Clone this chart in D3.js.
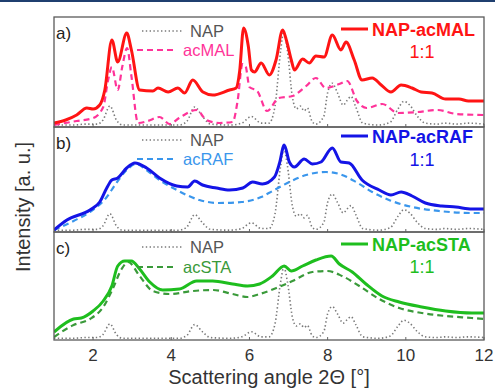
<!DOCTYPE html>
<html><head><meta charset="utf-8">
<script src="https://cdn.jsdelivr.net/npm/d3@7"></script>
<style>body{margin:0;background:#fff}svg{display:block}text{font-family:"Liberation Sans",Arial,sans-serif}</style>
</head><body>
<svg id="c" width="495" height="388"></svg>
<script>
// ---- data ----
const xTicks = [2, 4, 6, 8, 10, 12];
const panelLabels = ["a)", "b)", "c)"];
const mixNames = ["NAP-acMAL", "NAP-acRAF", "NAP-acSTA"];
const acidNames = ["acMAL", "acRAF", "acSTA"];
const ratioLabel = "1:1";
const napName = "NAP";
// NAP reference pattern (normalised, peak = 100)
const napPattern = [[1.0,1],[1.5,1],[1.8,2],[2.1,2],[2.25,6],[2.43,21],[2.6,6],[2.75,1],[3.5,1],[4.2,1],[4.4,5],[4.6,20],[4.8,10],[5.0,2],[5.5,1],[5.8,3],[6.05,10],[6.3,3],[6.5,3],[6.65,20],[6.8,80],[6.88,100],[6.97,80],[7.1,30],[7.2,18],[7.3,21],[7.4,16],[7.48,19],[7.6,5],[7.7,2],[7.9,10],[8.0,35],[8.12,45],[8.25,35],[8.4,22],[8.5,27],[8.6,31],[8.72,20],[8.9,3],[9.3,1],[9.6,4],[9.8,18],[9.95,26],[10.1,22],[10.3,10],[10.5,3],[10.8,2],[11.0,3],[11.3,2],[11.6,3],[12.0,2]];
const napPeak = [95, 82, 72];
const mixMAL = [[1.0,3],[1.3,6],[1.58,11],[1.84,18],[2.0,17],[2.17,21],[2.3,36],[2.48,86],[2.63,64],[2.86,93],[2.98,76],[3.19,36],[3.53,35],[3.66,38],[3.92,34],[4.17,38],[4.34,33],[4.55,46],[4.81,34],[5.06,31],[5.49,36],[5.66,38],[5.75,55],[5.85,98],[5.97,80],[6.05,56],[6.13,54],[6.3,63],[6.51,51],[6.68,66],[6.85,96],[6.95,85],[7.07,66],[7.15,56],[7.36,67],[7.53,63],[7.7,70],[7.91,69],[8.12,91],[8.34,76],[8.47,84],[8.68,66],[8.88,46],[9.14,48],[9.37,41],[9.62,34],[9.88,41],[10.16,38],[10.39,34],[10.67,33],[11.02,27],[11.36,27],[11.6,25],[12.0,25]];
const acMAL = [[1.0,1],[1.58,5],[2.0,8],[2.26,19],[2.38,45],[2.48,59],[2.63,36],[2.75,60],[2.87,78],[2.98,50],[3.15,3],[3.4,5],[3.7,9],[3.96,2],[4.2,8],[4.65,16],[4.9,6],[5.23,3],[5.57,4],[5.7,26],[5.82,62],[5.9,60],[6.0,39],[6.2,35],[6.45,15],[6.75,28],[7.1,30],[7.45,40],[7.7,48],[7.95,38],[8.3,42],[8.5,45],[8.75,25],[9.0,18],[9.4,22],[9.8,13],[10.3,14],[10.8,16],[11.3,12],[12.0,11]];
const mixRAF = [[1.0,1],[1.33,11],[1.92,21],[2.17,29],[2.35,43],[2.48,51],[2.63,53],[2.86,63],[3.07,68],[3.37,63],[3.7,53],[4.14,45],[4.42,44],[4.6,50],[4.8,46],[5.16,43],[5.49,41],[5.83,43],[6.08,49],[6.33,47],[6.64,54],[6.77,68],[6.89,86],[7.02,69],[7.15,64],[7.4,72],[7.61,67],[7.83,69],[8.12,83],[8.34,69],[8.55,68],[8.88,51],[9.32,41],[9.62,36],[9.88,39],[10.16,35],[10.5,28],[10.92,25],[11.28,24],[11.69,22],[12.0,22]];
const acRAF = [[1.0,1],[1.5,10],[1.92,19],[2.35,34],[2.56,46],[2.86,61],[3.1,67],[3.4,60],[3.7,51],[4.14,41],[4.72,31],[5.2,28],[5.8,29],[6.3,34],[6.59,40],[7.02,49],[7.45,56],[7.96,59],[8.3,57],[8.73,49],[9.14,39],[9.57,31],[10.16,24],[10.85,20],[11.69,18],[12.0,18]];
const mixSTA = [[1.0,7],[1.5,20],[1.7,21],[2.0,28],[2.26,38],[2.48,53],[2.63,73],[2.81,78],[2.98,78],[3.19,70],[3.45,57],[3.78,49],[4.21,50],[4.65,58],[5.06,58],[5.57,55],[5.95,53],[6.26,55],[6.59,63],[6.89,73],[7.07,68],[7.36,73],[7.7,79],[8.09,83],[8.3,75],[8.63,67],[8.98,55],[9.39,43],[9.83,37],[10.41,32],[11.02,28],[11.69,26],[12.0,26]];
const acSTA = [[1.0,2],[1.5,14],[1.92,20],[2.26,32],[2.5,50],[2.73,70],[2.9,77],[3.19,63],[3.53,48],[3.96,45],[4.55,48],[5.06,49],[5.57,45],[5.95,42],[6.26,45],[6.69,51],[7.1,58],[7.61,67],[7.99,68],[8.37,63],[8.81,53],[9.32,40],[9.83,31],[10.41,26],[11.02,23],[11.69,21],[12.0,20]];

// ---- layout / style ----
const mixSeries = [mixMAL, mixRAF, mixSTA];
const acidSeries = [acMAL, acRAF, acSTA];
const mixColors = ["#ff1414", "#1414e6", "#1ebe1e"];
const acidColors = ["#ff3399", "#3a96ec", "#3a9a3a"];
const panels = [{top:17,bottom:127,leg:[14,33,13,35]},{top:127,bottom:232,leg:[13,32,10,33]},{top:232,bottom:340,leg:[15,35,13,35]}];
const X0 = 54, X1 = 484;

const svg = d3.select("#c");
svg.append("rect").attr("x",0).attr("y",0).attr("width",495).attr("height",2).attr("fill","#1f3f6f");

const x = d3.scaleLinear().domain([1, 12]).range([X0, X1]);

panels.forEach((p, i) => {
  const y = d3.scaleLinear().domain([0, 100]).range([p.bottom - 1, p.bottom - 101]);
  const g = svg.append("g");
  const clipId = "clip" + i;
  svg.append("clipPath").attr("id", clipId).append("rect")
    .attr("x", X0).attr("y", p.top).attr("width", X1 - X0).attr("height", p.bottom - p.top);
  const line = d3.line().x(d => x(d[0])).y(d => y(d[1])).curve(d3.curveMonotoneX);
  const napY = d3.scaleLinear().domain([0, 100]).range([y(0), y(napPeak[i])]);
  const napLine = d3.line().x(d => x(d[0])).y(d => napY(d[1])).curve(d3.curveMonotoneX);
  const plot = g.append("g").attr("clip-path", `url(#${clipId})`);
  plot.append("path").attr("d", napLine(napPattern)).attr("fill","none")
    .attr("stroke","#7a7a7a").attr("stroke-width",1.6).attr("stroke-dasharray","1.4,2.4");
  plot.append("path").attr("d", line(acidSeries[i])).attr("fill","none")
    .attr("stroke", acidColors[i]).attr("stroke-width",2.2).attr("stroke-dasharray","6,4");
  plot.append("path").attr("d", line(mixSeries[i])).attr("fill","none")
    .attr("stroke", mixColors[i]).attr("stroke-width",3).attr("stroke-linejoin","round");

  // frame
  g.append("rect").attr("x", X0).attr("y", p.top).attr("width", X1 - X0).attr("height", p.bottom - p.top)
    .attr("fill","none").attr("stroke","#5a5a5a").attr("stroke-width",1.3);
  // inward ticks
  g.selectAll(".tk").data(xTicks).join("line")
    .attr("x1", d => x(d)).attr("x2", d => x(d)).attr("y1", p.bottom).attr("y2", p.bottom - 3)
    .attr("stroke","#666").attr("stroke-width",1);

  // panel label
  g.append("text").attr("x", 56).attr("y", p.top + 22).attr("font-size", 17).attr("fill","#222").text(panelLabels[i]);
  // NAP legend
  const [ly1, ly2, ly3, ly4] = p.leg;
  g.append("line").attr("x1",142).attr("x2",182).attr("y1",p.top+ly1).attr("y2",p.top+ly1)
    .attr("stroke","#7a7a7a").attr("stroke-width",1.6).attr("stroke-dasharray","1.4,2.4");
  g.append("text").attr("x",190).attr("y",p.top+ly1).attr("dy","0.35em").attr("font-size",16.5).attr("fill","#555").text(napName);
  g.append("line").attr("x1",137).attr("x2",175).attr("y1",p.top+ly2).attr("y2",p.top+ly2)
    .attr("stroke",acidColors[i]).attr("stroke-width",2.2).attr("stroke-dasharray","6,4");
  g.append("text").attr("x",183).attr("y",p.top+ly2).attr("dy","0.35em").attr("font-size",16.5).attr("fill",acidColors[i]).text(acidNames[i]);
  // mixture legend
  g.append("line").attr("x1",341).attr("x2",368).attr("y1",p.top+ly3-1).attr("y2",p.top+ly3-1)
    .attr("stroke",mixColors[i]).attr("stroke-width",3);
  g.append("text").attr("x",372).attr("y",p.top+ly3).attr("dy","0.35em").attr("font-size",18).attr("font-weight","bold").attr("fill",mixColors[i]).text(mixNames[i]);
  g.append("text").attr("x",422).attr("y",p.top+ly4).attr("dy","0.35em").attr("text-anchor","middle").attr("font-size",18).attr("fill",mixColors[i]).text(ratioLabel);
});

// x axis labels
svg.append("g").selectAll("text").data(xTicks).join("text")
  .attr("x", d => x(d)).attr("y", 355).attr("dy","0.35em").attr("text-anchor","middle")
  .attr("font-size",17).attr("fill","#333").text(d => d);
svg.append("text").attr("x",269).attr("y",377).attr("dy","0.35em").attr("text-anchor","middle")
  .attr("font-size",20).attr("fill","#333").text("Scattering angle 2Θ [°]");
svg.append("text").attr("transform","translate(23,207) rotate(-90)").attr("dy","0.35em").attr("text-anchor","middle")
  .attr("font-size",20).attr("fill","#333").text("Intensity [a. u.]");
</script>
</body></html>
